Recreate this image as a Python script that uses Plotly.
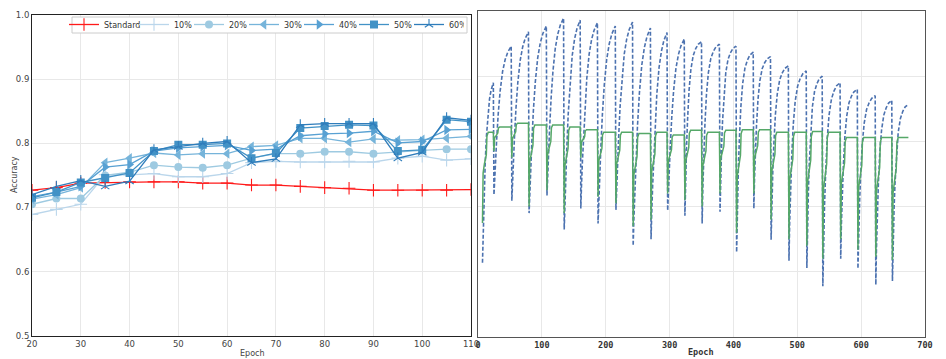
import plotly.graph_objects as go

# ---------------- Left panel data ----------------
epochs = [20, 25, 30, 35, 40, 45, 50, 55, 60, 65, 70, 75, 80, 85, 90, 95, 100, 105, 110]
standard = [0.727, 0.731, 0.738, 0.739, 0.740, 0.740, 0.740, 0.738, 0.738, 0.735, 0.735, 0.733, 0.731, 0.730, 0.727, 0.727, 0.727, 0.727, 0.728]
p10 = [0.689, 0.697, 0.705, 0.751, 0.751, 0.753, 0.748, 0.748, 0.753, 0.770, 0.772, 0.771, 0.771, 0.772, 0.771, 0.777, 0.780, 0.774, 0.776]
p20 = [0.705, 0.714, 0.714, 0.750, 0.755, 0.766, 0.763, 0.762, 0.766, 0.777, 0.784, 0.784, 0.787, 0.787, 0.784, 0.787, 0.789, 0.791, 0.791]
p30 = [0.713, 0.720, 0.731, 0.770, 0.777, 0.785, 0.782, 0.784, 0.784, 0.795, 0.797, 0.808, 0.808, 0.802, 0.807, 0.805, 0.806, 0.808, 0.811]
p40 = [0.717, 0.724, 0.733, 0.763, 0.767, 0.788, 0.793, 0.795, 0.797, 0.789, 0.791, 0.812, 0.815, 0.816, 0.819, 0.801, 0.803, 0.821, 0.822]
p50 = [0.715, 0.724, 0.739, 0.746, 0.754, 0.788, 0.798, 0.798, 0.800, 0.777, 0.785, 0.824, 0.827, 0.829, 0.828, 0.788, 0.790, 0.837, 0.834]
p60 = [0.720, 0.733, 0.742, 0.733, 0.741, 0.790, 0.795, 0.800, 0.803, 0.770, 0.776, 0.829, 0.831, 0.831, 0.831, 0.777, 0.786, 0.840, 0.836]
left_x_ticks = [20, 30, 40, 50, 60, 70, 80, 90, 100, 110]
left_y_ticks = [0.5, 0.6, 0.7, 0.8, 0.9, 1.0]

# ---------------- Right panel data ----------------
cycle_starts = [7, 25, 53, 80, 108, 135, 161, 188, 216, 243, 271, 297, 324, 351, 379, 405, 432, 459, 487, 515, 540, 568, 595, 623, 649]
last_epoch = 674
blue_min = [0.614, 0.718, 0.709, 0.690, 0.717, 0.665, 0.697, 0.674, 0.695, 0.640, 0.650, 0.694, 0.686, 0.674, 0.692, 0.630, 0.697, 0.649, 0.617, 0.606, 0.578, 0.620, 0.605, 0.580, 0.586]
blue_peak = [0.890, 0.946, 0.968, 0.977, 0.989, 0.986, 0.982, 0.977, 0.983, 0.974, 0.967, 0.957, 0.953, 0.949, 0.946, 0.937, 0.930, 0.916, 0.908, 0.900, 0.890, 0.880, 0.870, 0.863, 0.857]
green_min = [0.675, 0.785, 0.775, 0.700, 0.725, 0.690, 0.775, 0.715, 0.705, 0.670, 0.680, 0.720, 0.710, 0.700, 0.720, 0.660, 0.720, 0.680, 0.650, 0.640, 0.620, 0.650, 0.634, 0.623, 0.618]
green_plateau = [0.814, 0.822, 0.828, 0.825, 0.825, 0.822, 0.818, 0.814, 0.814, 0.812, 0.814, 0.810, 0.817, 0.814, 0.817, 0.818, 0.818, 0.814, 0.814, 0.815, 0.814, 0.806, 0.806, 0.806, 0.806]
# shape of one cycle (fraction of cycle length -> fraction of rise)
blue_shape_s = [0, 0.04, 0.10, 0.16, 0.25, 0.36, 0.50, 0.65, 0.80, 1.0]
blue_shape_early = [0, 0.12, 0.26, 0.38, 0.55, 0.70, 0.83, 0.91, 0.96, 1.0]
blue_shape_late = [0, 0.20, 0.40, 0.55, 0.72, 0.84, 0.92, 0.96, 0.985, 1.0]
green_shape_off = [0, 1, 3, 6, 7, 9]
green_shape_f = [0, 0.55, 0.65, 0.75, 0.96, 1.0]
right_x_ticks = [0, 100, 200, 300, 400, 500, 600, 700]

bx, by, gx, gy = [], [], [], []
n = len(cycle_starts)
for k in range(n):
    s0 = cycle_starts[k]
    s1 = (cycle_starts[k + 1] - 1) if k + 1 < n else last_epoch
    shape = blue_shape_early if k < 12 else blue_shape_late
    for s, f in zip(blue_shape_s, shape):
        bx.append(s0 + s * (s1 - s0))
        by.append(blue_min[k] + f * (blue_peak[k] - blue_min[k]))
    for o, f in zip(green_shape_off, green_shape_f):
        if s0 + o < s1:
            gx.append(s0 + o)
            gy.append(green_min[k] + f * (green_plateau[k] - green_min[k]))
    gx.append(s1)
    gy.append(green_plateau[k])

# page body has an 8px margin: the figure is sized to fit the window
OFF = 8
W, H = 946 - OFF, 359 - OFF
def px(x):
    return (x - OFF) / W
def py(y):
    return (H - (y - OFF)) / H

fig = go.Figure()

series = [
    ("Standard", standard, "#ff1a1a", "cross-thin", 9, 25),
    ("10%", p10, "#bad6eb", "cross-thin", 9, 10),
    ("20%", p20, "#9ecae1", "circle", 8, 10),
    ("30%", p30, "#76b4da", "triangle-left", 9, 10),
    ("40%", p40, "#58a1d3", "triangle-right", 9, 10),
    ("50%", p50, "#4292c6", "square", 8, 10),
    ("60%", p60, "#2f7dbb", "y-up", 7, 10),
]
for name, vals, col, sym, sz, lw in series:
    open_sym = sym in ("cross-thin", "y-up")
    fig.add_trace(go.Scatter(
        x=epochs, y=vals, name=name, mode="lines+markers", legendwidth=lw,
        line=dict(color=col, width=1.3),
        marker=dict(symbol=sym, size=sz, color=col,
                    line=dict(color=col, width=1.1 if open_sym else 0)),
        xaxis="x", yaxis="y"))

fig.add_trace(go.Scatter(x=bx, y=by, mode="lines", showlegend=False,
                         line=dict(color="#4c72b0", width=1.6, dash="4px,2px"),
                         xaxis="x2", yaxis="y2"))
fig.add_trace(go.Scatter(x=gx, y=gy, mode="lines", showlegend=False,
                         line=dict(color="#55a868", width=1.5),
                         xaxis="x2", yaxis="y2"))

grid = "#e8e8e8"
fig.update_layout(
    width=W, height=H, margin=dict(l=0, r=0, t=0, b=0),
    paper_bgcolor="white", plot_bgcolor="white",
    font=dict(family="DejaVu Sans", size=8, color="#444"),
    xaxis=dict(domain=[px(32), px(471)], range=[20, 110], tickvals=left_x_ticks,
               automargin=False,
               showgrid=True, gridcolor=grid, gridwidth=1, zeroline=False,
               showline=True, mirror=True, linecolor="#222", linewidth=1,
               ticks="", tickfont=dict(size=8.5, color="#444")),
    yaxis=dict(domain=[py(335.6), py(15.3)], range=[0.5, 1.0], tickvals=left_y_ticks,
               tickformat=".1f", automargin=False,
               showgrid=True, gridcolor=grid, gridwidth=1, zeroline=False,
               showline=True, mirror=True, linecolor="#222", linewidth=1,
               ticks="", tickfont=dict(size=8.5, color="#444")),
    xaxis2=dict(domain=[px(478), px(925)], range=[0, 700], tickvals=right_x_ticks,
                anchor="y2", automargin=False,
                showgrid=True, gridcolor=grid, gridwidth=1, zeroline=False,
                showline=True, mirror=True, linecolor="#555", linewidth=1,
                ticks="", tickfont=dict(family="DejaVu Sans Mono", size=8.5, color="#333", weight="bold")),
    yaxis2=dict(domain=[py(337), py(11)], range=[0.5, 1.0], anchor="x2", automargin=False,
                tickvals=[0.6, 0.7, 0.8, 0.9], showticklabels=False,
                showgrid=True, gridcolor=grid, gridwidth=1, zeroline=False,
                showline=True, mirror=True, linecolor="#555", linewidth=1, ticks=""),
    legend=dict(orientation="h", x=px(64), y=py(10), xanchor="left", yanchor="top",
                bgcolor="rgba(0,0,0,0)", borderwidth=0,
                font=dict(size=8, color="#333"), itemwidth=30,
                tracegroupgap=0),
    shapes=[
        dict(type="rect", xref="paper", yref="paper", x0=px(72), x1=px(467),
             y0=py(33), y1=py(17), fillcolor="white",
             line=dict(color="#cccccc", width=1), layer="above"),
    ],
    annotations=[
        dict(text="Accuracy", x=px(14), y=py(175), xref="paper", yref="paper",
             xanchor="center", yanchor="middle",
             showarrow=False, textangle=-90, font=dict(size=8, color="#444")),
        dict(text="Epoch", x=px(252), y=py(353), xref="paper", yref="paper",
             xanchor="center", yanchor="middle",
             showarrow=False, font=dict(size=8, color="#444")),
        dict(text="Epoch", x=px(701), y=py(352), xref="paper", yref="paper",
             xanchor="center", yanchor="middle",
             showarrow=False, font=dict(family="DejaVu Sans Mono", size=8.5, color="#333", weight="bold")),
    ],
)

fig.write_html("out.html")
